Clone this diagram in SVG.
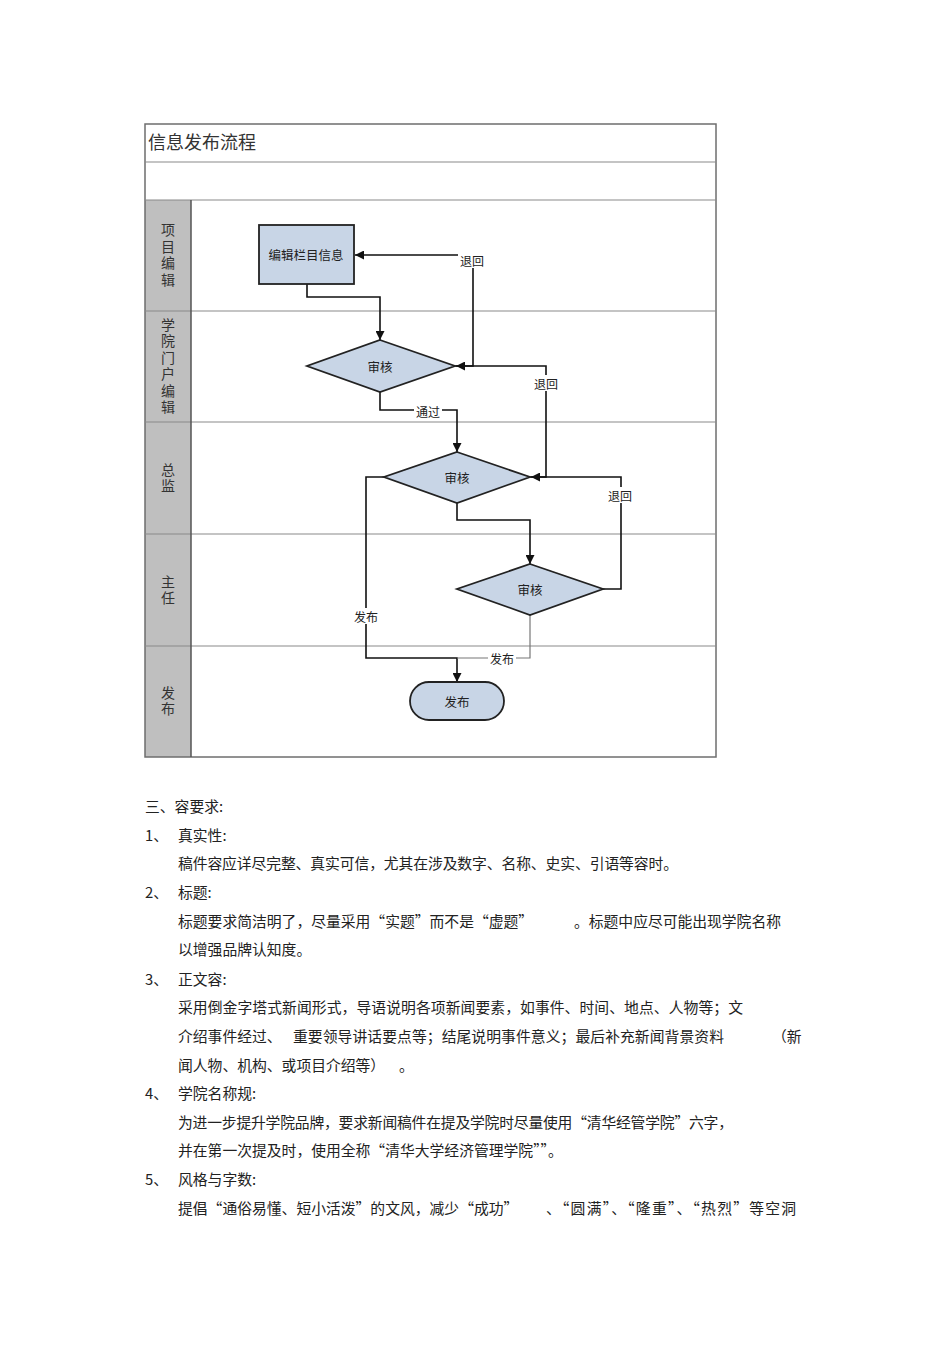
<svg xmlns="http://www.w3.org/2000/svg" width="950" height="1345" viewBox="0 0 950 1345">
<style>
.frame{fill:none;stroke:#6e6e6e;stroke-width:1.5}
.line{stroke:#8a8a8a;stroke-width:1.2}
.lanelab{font-family:"Noto Sans CJK SC","Noto Sans CJK JP",sans-serif;font-size:14px;fill:#333;text-anchor:middle;writing-mode:vertical-rl;letter-spacing:2.5px}
.shape{fill:#c8d5e6;stroke:#222;stroke-width:1.8}
.ntext{font-family:"Noto Sans CJK SC",sans-serif;font-size:12.5px;fill:#222;text-anchor:middle;dominant-baseline:central}
.conn{fill:none;stroke:#111;stroke-width:1.6}
.conn2{fill:none;stroke:#777;stroke-width:1.2}
.clab{font-family:"Noto Sans CJK SC",sans-serif;font-size:12px;fill:#222;text-anchor:middle;dominant-baseline:central}
.lbg{fill:#fff}
.body{font-family:"Noto Sans CJK SC","Noto Sans CJK JP",sans-serif;font-size:14.8px;fill:#222}
</style>
<defs>
<marker id="arr" viewBox="0 0 10 10" refX="10" refY="5" markerWidth="9" markerHeight="9" markerUnits="userSpaceOnUse" orient="auto">
<path d="M0,0 L10,5 L0,10 z" fill="#111"/>
</marker>
</defs>
<rect width="950" height="1345" fill="#fff"/>
<g id="pool">
<rect x="145" y="200" width="46" height="557" fill="#bfbfbf"/>
<rect class="frame" x="145" y="124" width="571" height="633"/>
<line class="line" x1="145" y1="162" x2="716" y2="162"/>
<line class="line" x1="145" y1="200" x2="716" y2="200"/>
<line class="line" x1="145" y1="311" x2="716" y2="311"/>
<line class="line" x1="145" y1="422" x2="716" y2="422"/>
<line class="line" x1="145" y1="534" x2="716" y2="534"/>
<line class="line" x1="145" y1="646" x2="716" y2="646"/>
<line x1="191" y1="200" x2="191" y2="757" stroke="#555" stroke-width="1.5"/>
<text x="148" y="149" font-family="Noto Sans CJK SC,sans-serif" font-size="18" fill="#333">信息发布流程</text>
</g>
<g id="lane-labels">
<text class="lanelab" x="168" y="256">项目编辑</text>
<text class="lanelab" x="168" y="367">学院门户编辑</text>
<text class="lanelab" x="168" y="479">总监</text>
<text class="lanelab" x="168" y="591">主任</text>
<text class="lanelab" x="168" y="702">发布</text>
</g>
<g id="connectors">
<path class="conn" d="M307,284 V297 H380 V340" marker-end="url(#arr)"/>
<path class="conn" d="M380,392 V410 H457 V452" marker-end="url(#arr)"/>
<path class="conn" d="M455,366 H473 V255 H355" marker-end="url(#arr)"/>
<path class="conn" d="M530,477 H546 V366 H456" marker-end="url(#arr)"/>
<path class="conn" d="M457,503 V520 H530 V564" marker-end="url(#arr)"/>
<path class="conn" d="M603,589 H621 V477 H531" marker-end="url(#arr)"/>
<path class="conn" d="M384,477 H366 V658 H457 V682" marker-end="url(#arr)"/>
<path class="conn2" d="M530,615 V658 H457"/>
<rect class="lbg" x="458" y="252" width="28" height="16"/>
<text class="clab" x="472" y="260">退回</text>
<rect class="lbg" x="532" y="375" width="28" height="16"/>
<text class="clab" x="546" y="383">退回</text>
<rect class="lbg" x="414" y="403" width="28" height="16"/>
<text class="clab" x="428" y="411">通过</text>
<rect class="lbg" x="606" y="487" width="28" height="16"/>
<text class="clab" x="620" y="495">退回</text>
<rect class="lbg" x="352" y="608" width="28" height="16"/>
<text class="clab" x="366" y="616">发布</text>
<rect class="lbg" x="488" y="650" width="28" height="16"/>
<text class="clab" x="502" y="658">发布</text>
</g>
<g id="node-edit">
<rect class="shape" x="259" y="225" width="95" height="59"/>
<text class="ntext" x="306" y="254">编辑栏目信息</text>
</g>
<g id="node-review1">
<polygon class="shape" points="380,340 455,366 380,392 307,366"/>
<text class="ntext" x="380" y="366">审核</text>
</g>
<g id="node-review2">
<polygon class="shape" points="457,452 530,477 457,503 384,477"/>
<text class="ntext" x="457" y="477">审核</text>
</g>
<g id="node-review3">
<polygon class="shape" points="530,564 603,589 530,615 457,589"/>
<text class="ntext" x="530" y="589">审核</text>
</g>
<g id="node-publish">
<rect class="shape" x="410" y="682" width="94" height="38" rx="19" ry="19"/>
<text class="ntext" x="457" y="701">发布</text>
</g>
<g id="body-text" class="body">
<text x="145" y="812">三、容要求:</text>
<text x="145" y="841">1、</text><text x="178" y="841">真实性:</text>
<text x="178" y="869" textLength="500" lengthAdjust="spacing">稿件容应详尽完整、真实可信，尤其在涉及数字、名称、史实、引语等容时。</text>
<text x="145" y="898">2、</text><text x="178" y="898">标题:</text>
<text x="178" y="927">标题要求简洁明了，尽量采用“实题”而不是“虚题”</text>
<text x="574" y="927" textLength="207" lengthAdjust="spacing">。标题中应尽可能出现学院名称</text>
<text x="178" y="955">以增强品牌认知度。</text>
<text x="145" y="985">3、</text><text x="178" y="985">正文容:</text>
<text x="178" y="1013" textLength="565" lengthAdjust="spacing">采用倒金字塔式新闻形式，导语说明各项新闻要素，如事件、时间、地点、人物等；文</text>
<text x="178" y="1042">介绍事件经过、</text>
<text x="293" y="1042" textLength="431" lengthAdjust="spacing">重要领导讲话要点等；结尾说明事件意义；最后补充新闻背景资料</text>
<text x="772" y="1042">（新</text>
<text x="178" y="1071">闻人物、机构、或项目介绍等）</text>
<text x="399" y="1071">。</text>
<text x="145" y="1099">4、</text><text x="178" y="1099">学院名称规:</text>
<text x="178" y="1128" textLength="555" lengthAdjust="spacing">为进一步提升学院品牌，要求新闻稿件在提及学院时尽量使用“清华经管学院”六字，</text>
<text x="178" y="1156">并在第一次提及时，使用全称“清华大学经济管理学院””。</text>
<text x="145" y="1185">5、</text><text x="178" y="1185">风格与字数:</text>
<text x="178" y="1214">提倡“通俗易懂、短小活泼”的文风，减少“成功”</text>
<text x="546" y="1214" textLength="250" lengthAdjust="spacing">、“圆满”、“隆重”、“热烈”等空洞</text>
</g>
</svg>
